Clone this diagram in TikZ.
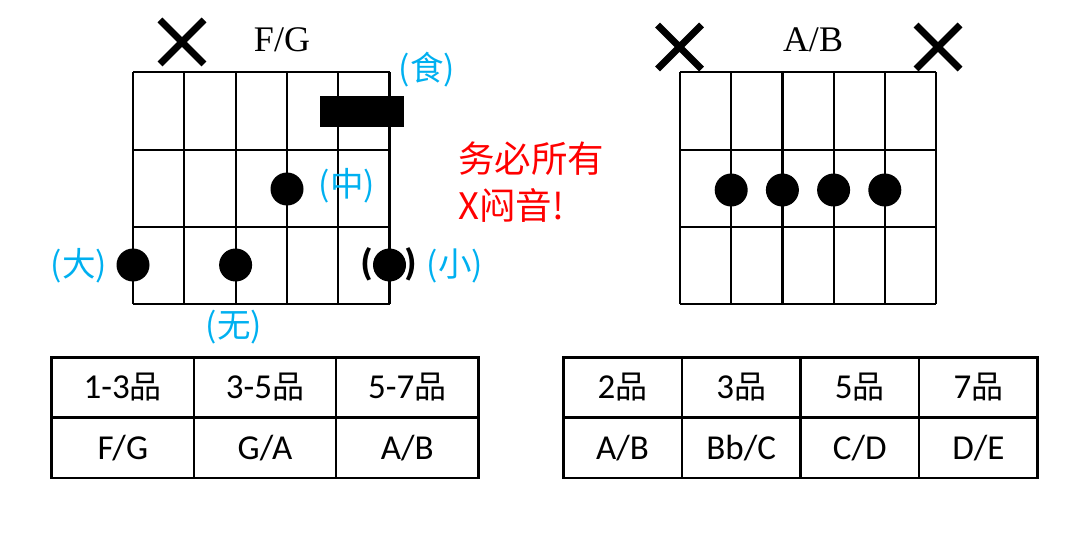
\documentclass[tikz,border=0pt]{standalone}
\usepackage{fontspec}
\setmainfont{Liberation Serif}
\newfontfamily\cjk{Noto Sans CJK SC}
\newfontfamily\calfont{Carlito}
\usetikzlibrary{shapes.misc}
\definecolor{lblue}{HTML}{00B0F0}
\definecolor{redtxt}{HTML}{FF0000}
\tikzset{
  gridline/.style={line width=2.2pt},
  dot/.style={circle,fill=black,inner sep=0pt,minimum size=33pt},
  xm/.style={cross out,draw,line width=7pt,minimum size=37pt,inner sep=0pt},
  chordname/.style={font=\fontsize{36}{40}\selectfont},
  finger/.style={text=lblue,font=\cjk\fontsize{33.5}{36}\selectfont},
  paren/.style={font=\cjk\bfseries\fontsize{32}{36}\selectfont},
  cell/.style={draw,line width=2.5pt,inner sep=0pt,outer sep=0pt,minimum height=60.3pt,font=\calfont\fontsize{35}{38}\selectfont},
  lcell/.style={cell,minimum width=142.2pt},
  rcell/.style={cell,minimum width=118.6pt},
}
\newcommand{\pin}{{\cjk\fontsize{32}{36}\selectfont 品}}
\begin{document}
\begin{tikzpicture}[x=1pt,y=-1pt]
\useasboundingbox (0,0) rectangle (1080,540);
% ---------- left chord F/G ----------
\foreach \i in {0,...,5} \draw[gridline] (133+51.3*\i,72.3) -- (133+51.3*\i,304.3);
\foreach \j in {0,...,3} \draw[gridline] (133,72.3+77.33*\j) -- (389.5,72.3+77.33*\j);
\fill (320,96) rectangle (404,127.5);
\node[xm] (lx) at (182,42) {};
\node[chordname] (lname) at (282,40) {F/G};
\node[dot] (d1) at (287.0,189) {};
\node[dot] (d2) at (133,265) {};
\node[dot] (d3) at (235.6,265) {};
\node[dot] (d4) at (389.5,265) {};
\node[paren] (pl) at (367,264) {(};
\node[paren] (pr) at (411,264) {)};
\node[finger] (fshi) at (427,70) {(食)};
\node[finger] (fzhong) at (347,186) {(中)};
\node[finger] (fda) at (79,266) {(大)};
\node[finger] (fxiao) at (455,266) {(小)};
\node[finger] (fwu) at (234,327) {(无)};
\node[text=redtxt,font=\cjk\fontsize{36.5}{47}\selectfont,align=left,anchor=west,inner sep=0pt] (warn) at (458,182) {务必所有\\X闷音!};
% ---------- right chord A/B ----------
\foreach \i in {0,...,5} \draw[gridline] (680+51.2*\i,72.3) -- (680+51.2*\i,304.3);
\foreach \j in {0,...,3} \draw[gridline] (680,72.3+77.33*\j) -- (936,72.3+77.33*\j);
\node[xm] (rx1) at (679.5,47) {};
\node[xm] (rx2) at (938,47) {};
\node[chordname] (rname) at (813,40) {A/B};
\foreach \i [count=\k] in {1,...,4} \node[dot] (e\k) at (680+51.2*\i,190) {};
% ---------- left table ----------
\node[lcell] (a1) at (122.8,387.5) {1-3\pin};
\node[lcell] (a2) at (265.0,387.5) {3-5\pin};
\node[lcell] (a3) at (407.2,387.5) {5-7\pin};
\node[lcell] (b1) at (122.8,447.8) {F/G};
\node[lcell] (b2) at (265.0,447.8) {G/A};
\node[lcell] (b3) at (407.2,447.8) {A/B};
% ---------- right table ----------
\node[rcell] (c1) at (622.6,387.5) {2\pin};
\node[rcell] (c2) at (741.2,387.5) {3\pin};
\node[rcell] (c3) at (859.8,387.5) {5\pin};
\node[rcell] (c4) at (978.4,387.5) {7\pin};
\node[rcell] (g1) at (622.6,447.8) {A/B};
\node[rcell] (g2) at (741.2,447.8) {Bb/C};
\node[rcell] (g3) at (859.8,447.8) {C/D};
\node[rcell] (g4) at (978.4,447.8) {D/E};
\end{tikzpicture}
\end{document}
